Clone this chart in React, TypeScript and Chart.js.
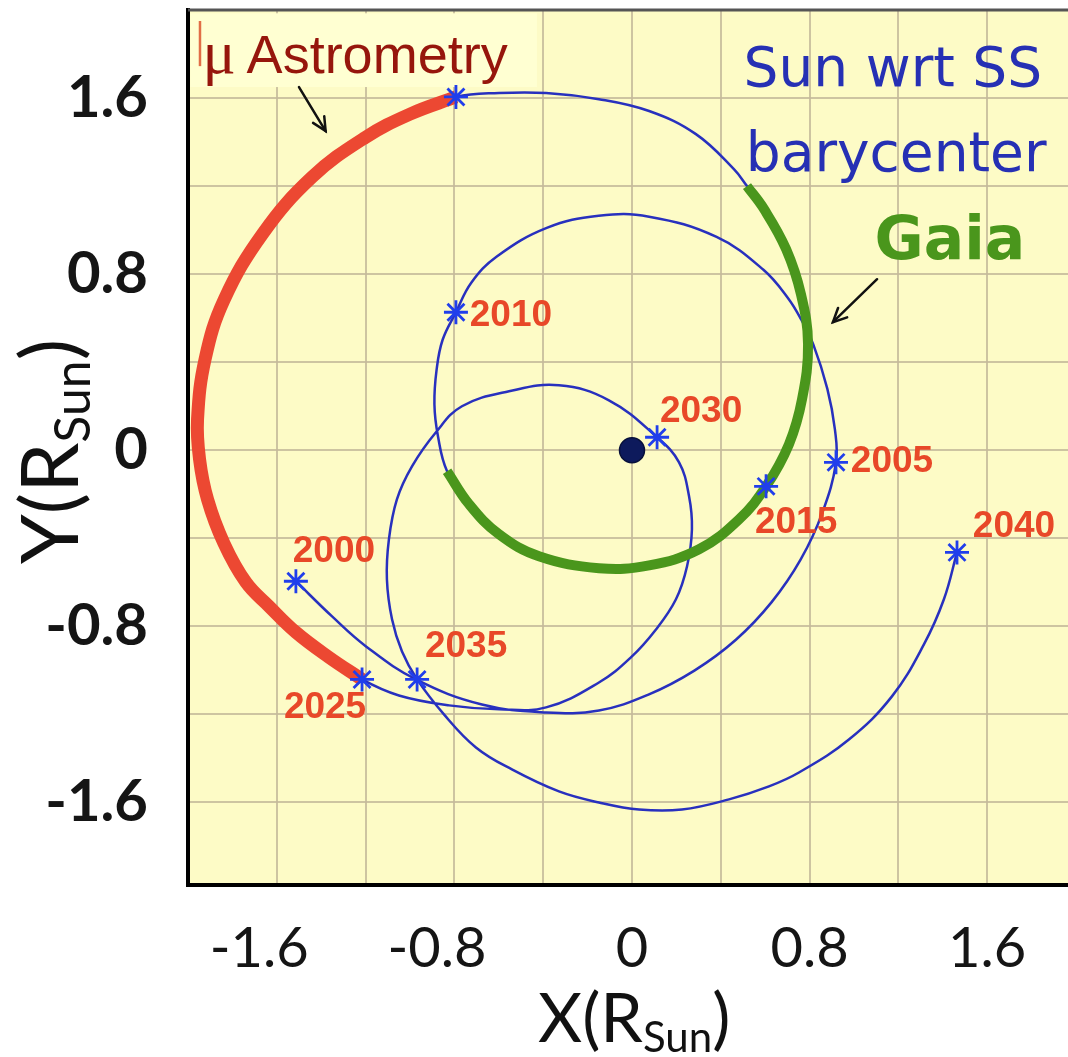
import { useEffect, useRef } from "react";
import { Chart, registerables } from "chart.js";

Chart.register(...registerables);

// Barycentric track of the Sun, 2000–2040, in solar radii
const pathX = [
  -1.514, -1.351, -1.198, -0.973, -0.676, -0.387, -0.149, 0.074, 0.281, 0.468, 0.629, 0.76, 0.858,
  0.919, 0.914, 0.88, 0.817, 0.762, 0.703, 0.592, 0.381, 0.077, -0.15, -0.384, -0.609, -0.724,
  -0.793, -0.853, -0.88, -0.89, -0.874, -0.833, -0.734, -0.599, -0.419, -0.149, 0.077, 0.302, 0.482,
  0.604, 0.707, 0.766, 0.793, 0.761, 0.694, 0.595, 0.518, 0.459, 0.288, 0.077, -0.149, -0.387, -0.599,
  -0.793, -1.0, -1.203, -1.441, -1.662, -1.838, -1.923, -1.957, -1.948, -1.912, -1.838, -1.739, -1.635, -1.514, -1.367,
  -1.216, -1.05, -0.824, -0.599, -0.387, -0.149, -0.005, 0.108, 0.198, 0.248, 0.27, 0.257, 0.212,
  0.113, -0.104, -0.329, -0.554, -0.766, -0.883, -0.991, -1.059, -1.095, -1.104, -1.081, -1.036,
  -0.968, -0.847, -0.703, -0.541, -0.329, -0.149, 0.032, 0.225, 0.437, 0.617, 0.752, 0.977, 1.171, 1.315, 1.405,
  1.464,
];
const pathY = [
  -0.595, -0.755, -0.891, -1.041, -1.155, -1.191, -1.182, -1.11, -1.001, -0.861, -0.69, -0.496, -0.282,
  -0.055, 0.095, 0.279, 0.48, 0.594, 0.691, 0.82, 0.969, 1.061, 1.065, 1.01, 0.88, 0.761,
  0.627, 0.502, 0.367, 0.209, 0.064, -0.095, -0.245, -0.382, -0.482, -0.536, -0.523, -0.45, -0.314,
  -0.164, 0.027, 0.232, 0.482, 0.709, 0.914, 1.095, 1.2, 1.277, 1.436, 1.541, 1.595, 1.623, 1.623,
  1.605, 1.527, 1.42, 1.241, 0.986, 0.682, 0.414, 0.141, -0.041, -0.223, -0.423, -0.6, -0.709, -0.827, -0.939,
  -1.041, -1.114, -1.159, -1.177, -1.168, -1.055, -0.941, -0.814, -0.677, -0.527, -0.359, -0.209, -0.055,
  0.059, 0.227, 0.295, 0.268, 0.2, 0.082, -0.073, -0.223, -0.405, -0.586, -0.768, -0.914,
  -1.041, -1.2, -1.35, -1.45, -1.55, -1.6, -1.632, -1.632, -1.586, -1.527, -1.464, -1.314, -1.118, -0.882, -0.677,
  -0.464,
];

// Five-year epochs and their sample index along the track
const years = [2000, 2005, 2010, 2015, 2020, 2025, 2030, 2035, 2040];
const yearIndex = [0, 13, 26, 39, 53, 68, 81, 93, 108];
const unlabelledYears = [2020];

// Mission coverage as index spans along the track
const gaiaSpan = [31, 46];
const astrometrySpan = [53, 68];

// Axis ticks
const gridValues = [-1.6, -1.2, -0.8, -0.4, 0, 0.4, 0.8, 1.2, 1.6];
const labelValues = [-1.6, -0.8, 0, 0.8, 1.6];
const tickLabels = ["-1.6", "-0.8", "0", "0.8", "1.6"];

// Year label placement relative to its marker (px)
const yearLabelOffset: Record<number, [number, number]> = {
  2000: [38, -29],
  2005: [56, -1],
  2010: [55, 4],
  2015: [30, 36],
  2025: [-37, 28],
  2030: [44, -25],
  2035: [49, -33],
  2040: [57, -26],
};

const COLORS = {
  plotBg: "rgb(253,251,198)",
  boxBg: "rgb(255,255,210)",
  grid: "rgba(196,186,154,0.85)",
  track: "rgb(40,48,190)",
  marker: "rgb(32,62,235)",
  gaia: "rgb(74,150,28)",
  astro: "rgb(236,72,50)",
  year: "rgb(232,72,40)",
  note: "rgb(38,48,180)",
  astroText: "rgb(150,22,12)",
  sun: "#0d1a5c",
};

const pts = (a: number, b: number) => {
  const out: { x: number; y: number }[] = [];
  for (let i = a; i <= b; i++) out.push({ x: pathX[i], y: pathY[i] });
  return out;
};

const tickText = (v: number) => {
  const k = labelValues.findIndex((t) => Math.abs(t - v) < 1e-6);
  return k >= 0 ? tickLabels[k] : "";
};

// negative x labels sit centred on their digits rather than on the whole string
const xTickText = (v: number) => {
  const s = tickText(v);
  return s.startsWith("-") ? s + "\u2002\u2009" : s;
};

function drawArrow(ctx: CanvasRenderingContext2D, x0: number, y0: number, x1: number, y1: number) {
  ctx.save();
  ctx.strokeStyle = "#111";
  ctx.lineWidth = 2.5;
  ctx.lineCap = "round";
  ctx.beginPath();
  ctx.moveTo(x0, y0);
  ctx.lineTo(x1, y1);
  ctx.stroke();
  const a = Math.atan2(y1 - y0, x1 - x0);
  const h = 15;
  ctx.beginPath();
  ctx.moveTo(x1 - h * Math.cos(a - 0.45), y1 - h * Math.sin(a - 0.45));
  ctx.lineTo(x1, y1);
  ctx.lineTo(x1 - h * Math.cos(a + 0.45), y1 - h * Math.sin(a + 0.45));
  ctx.stroke();
  ctx.restore();
}

// "X(R_Sun)" style title with subscript, centred on (0,0) of the current transform
function drawSubTitle(
  ctx: CanvasRenderingContext2D,
  pre: string,
  sub: string,
  post: string,
  baseline: number,
  size: number
) {
  const big = `400 ${size}px Lato, sans-serif`;
  const small = `400 ${Math.round(size * 0.62)}px Lato, sans-serif`;
  ctx.font = big;
  const w1 = ctx.measureText(pre).width;
  const w3 = ctx.measureText(post).width;
  ctx.font = small;
  const w2 = ctx.measureText(sub).width;
  const total = w1 + w2 + w3;
  let x = -total / 2;
  ctx.textAlign = "left";
  ctx.textBaseline = "alphabetic";
  ctx.fillStyle = "#111";
  ctx.font = big;
  ctx.fillText(pre, x, baseline);
  x += w1;
  ctx.font = small;
  ctx.fillText(sub, x, baseline + size * 0.15);
  x += w2;
  ctx.font = big;
  ctx.fillText(post, x, baseline);
}

const zeroPadding = (s: any) => {
  s.paddingTop = 0;
  s.paddingBottom = 0;
  s.paddingLeft = 0;
  s.paddingRight = 0;
};

const decorations = {
  id: "decorations",
  beforeDraw(chart: any) {
    const { ctx, chartArea: a } = chart;
    ctx.save();
    ctx.fillStyle = "#fff";
    ctx.fillRect(0, 0, chart.width, chart.height);
    ctx.fillStyle = COLORS.plotBg;
    ctx.fillRect(a.left, a.top, a.right - a.left, a.bottom - a.top);
    ctx.restore();
  },
  beforeDatasetsDraw(chart: any) {
    const { ctx, scales } = chart;
    const X = (v: number) => scales.x.getPixelForValue(v);
    const Y = (v: number) => scales.y.getPixelForValue(v);
    // label box for the astrometry mission
    const bx0 = X(-1.99), bx1 = X(-0.428), by0 = Y(1.985), by1 = Y(1.65);
    ctx.save();
    ctx.fillStyle = COLORS.boxBg;
    ctx.fillRect(bx0, by0, bx1 - bx0, by1 - by0);
    ctx.restore();
  },
  afterDatasetsDraw(chart: any) {
    const { ctx, scales, chartArea: a } = chart;
    const X = (v: number) => scales.x.getPixelForValue(v);
    const Y = (v: number) => scales.y.getPixelForValue(v);
    ctx.save();

    // year labels
    ctx.font = "bold 37px 'Liberation Sans', Arial, sans-serif";
    ctx.fillStyle = COLORS.year;
    ctx.textAlign = "center";
    ctx.textBaseline = "middle";
    years.forEach((yr, k) => {
      if (unlabelledYears.includes(yr)) return;
      const off = yearLabelOffset[yr];
      const i = yearIndex[k];
      ctx.fillText(String(yr), X(pathX[i]) + off[0], Y(pathY[i]) + off[1]);
    });

    // μ Astrometry
    ctx.strokeStyle = "rgb(225,110,70)";
    ctx.lineWidth = 2.5;
    ctx.beginPath();
    ctx.moveTo(X(-1.946), Y(1.95));
    ctx.lineTo(X(-1.946), Y(1.745));
    ctx.stroke();
    ctx.fillStyle = COLORS.astroText;
    ctx.textAlign = "left";
    ctx.textBaseline = "alphabetic";
    ctx.font = "62px 'Liberation Serif', serif";
    ctx.fillText("\u03bc", X(-1.935), Y(1.715));
    ctx.font = "54px 'Liberation Sans', Arial, sans-serif";
    ctx.fillText("Astrometry", X(-1.736), Y(1.715));

    // track caption
    ctx.fillStyle = COLORS.note;
    ctx.textAlign = "center";
    ctx.font = "55px 'DejaVu Sans', sans-serif";
    ctx.fillText("Sun wrt SS", X(1.175), Y(1.655));
    ctx.fillText("barycenter", X(1.19), Y(1.27));

    // Gaia
    ctx.fillStyle = COLORS.gaia;
    ctx.font = "bold 60px 'DejaVu Sans', sans-serif";
    ctx.fillText("Gaia", X(1.432), Y(0.87));

    drawArrow(ctx, X(-1.5), Y(1.65), X(-1.38), Y(1.45));
    drawArrow(ctx, X(1.104), Y(0.777), X(0.905), Y(0.582));

    // top frame line
    ctx.strokeStyle = "#555";
    ctx.lineWidth = 3;
    ctx.beginPath();
    ctx.moveTo(a.left, a.top);
    ctx.lineTo(a.right, a.top);
    ctx.stroke();
    ctx.restore();
  },
  afterDraw(chart: any) {
    const { ctx, scales, chartArea: a } = chart;
    ctx.save();
    ctx.translate(scales.x.getPixelForValue(0.01), 0);
    drawSubTitle(ctx, "X(R", "Sun", ")", 1042, 68);
    ctx.restore();
    ctx.save();
    ctx.translate(78, (a.top + a.bottom) / 2 + 4);
    ctx.rotate(-Math.PI / 2);
    drawSubTitle(ctx, "Y(R", "Sun", ")", 0, 80);
    ctx.restore();
  },
};

export default function App() {
  const ref = useRef<HTMLCanvasElement | null>(null);

  useEffect(() => {
    if (!ref.current) return;
    const markerData = yearIndex.map((i) => ({ x: pathX[i], y: pathY[i] }));
    const chart = new Chart(ref.current, {
      type: "scatter",
      data: {
        datasets: [
          {
            label: "epochs",
            data: markerData,
            showLine: false,
            pointStyle: "star",
            pointRadius: 12,
            pointBorderWidth: 2.8,
            borderColor: COLORS.marker,
            backgroundColor: COLORS.marker,
            order: 0,
          },
          {
            label: "Sun",
            data: [{ x: 0, y: 0 }],
            showLine: false,
            pointStyle: "circle",
            pointRadius: 12.5,
            pointBorderWidth: 1.5,
            borderColor: "#07103a",
            backgroundColor: COLORS.sun,
            order: 0,
          },
          {
            label: "Gaia",
            data: pts(gaiaSpan[0], gaiaSpan[1]),
            showLine: true,
            borderColor: COLORS.gaia,
            borderWidth: 10,
            pointRadius: 0,
            tension: 0.4,
            order: 1,
          },
          {
            label: "\u03bc Astrometry",
            data: pts(astrometrySpan[0], astrometrySpan[1]),
            showLine: true,
            borderColor: COLORS.astro,
            borderWidth: 13,
            pointRadius: 0,
            tension: 0.4,
            order: 1,
          },
          {
            label: "Sun wrt SS barycenter",
            data: pts(0, pathX.length - 1),
            showLine: true,
            borderColor: COLORS.track,
            borderWidth: 2.5,
            pointRadius: 0,
            tension: 0.4,
            order: 2,
          },
        ],
      },
      options: {
        responsive: false,
        animation: false,
        devicePixelRatio: 1,
        layout: { autoPadding: false, padding: { top: 10, left: 0, right: 0, bottom: 0 } },
        plugins: { legend: { display: false }, tooltip: { enabled: false } },
        scales: {
          x: {
            type: "linear",
            min: -2.0,
            max: 1.964,
            afterBuildTicks: (s: any) => {
              s.ticks = gridValues.map((v) => ({ value: v }));
            },
            afterFit: (s: any) => {
              s.height = 172;
              zeroPadding(s);
            },
            grid: { color: COLORS.grid, lineWidth: 2, drawTicks: false },
            border: { display: true, color: "#000", width: 4 },
            ticks: {
              autoSkip: false,
              maxRotation: 0,
              padding: 30,
              color: "#151515",
              font: { family: "Lato", size: 56 },
              callback: (v: any) => xTickText(Number(v)),
            },
          },
          y: {
            type: "linear",
            min: -1.975,
            max: 2.0,
            afterBuildTicks: (s: any) => {
              s.ticks = gridValues.map((v) => ({ value: v }));
            },
            afterFit: (s: any) => {
              s.width = 188;
              zeroPadding(s);
            },
            grid: { color: COLORS.grid, lineWidth: 2, drawTicks: false },
            border: { display: true, color: "#000", width: 4 },
            ticks: {
              autoSkip: false,
              padding: 40,
              color: "#151515",
              font: { family: "Lato", size: 58, weight: "bold" },
              callback: (v: any) => tickText(Number(v)),
            },
          },
        },
      },
      plugins: [decorations],
    });
    return () => chart.destroy();
  }, []);

  return (
    <div style={{ position: "absolute", left: 0, top: 0, width: 1068, height: 1057 }}>
      <canvas ref={ref} width={1068} height={1057} style={{ display: "block" }} />
    </div>
  );
}
